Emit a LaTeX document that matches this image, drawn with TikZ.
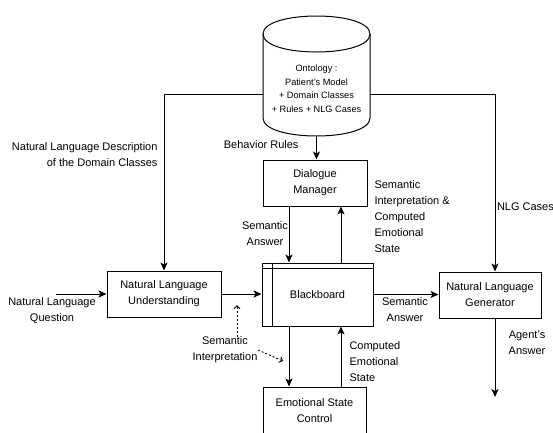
\documentclass[tikz,border=0pt]{standalone}
\usepackage{fontspec}
\setmainfont{Liberation Sans}
\usetikzlibrary{arrows.meta,calc}
\begin{document}
\begin{tikzpicture}[x=1pt,y=-1pt,line width=1pt,
  every node/.style={font=\fontsize{11}{16}\selectfont},
  box/.style={draw,align=center,inner sep=0pt},
  lbl/.style={inner sep=0pt},
  arr/.style={-{Stealth[length=8pt,width=7pt,inset=2pt]}},
  dotarr/.style={line width=0.9pt,dash pattern=on 2pt off 2pt,-{Straight Barb[length=3pt,width=6pt]}},
]
\useasboundingbox (0,0) rectangle (553,432);

% ontology cylinder
\draw[fill=white] (263,34) .. controls (263,10) and (370,10) .. (370,34) -- (370,118)
  .. controls (370,142) and (263,142) .. (263,118) -- cycle;
\draw (263,34) .. controls (263,58) and (370,58) .. (370,34);
\node[lbl,align=center,font=\fontsize{9.2}{13.5}\selectfont] (onto) at (316.5,88.5)
  {Ontology :\\Patient's Model\\+ Domain Classes\\+ Rules + NLG Cases};
\coordinate (cylL) at (263,94);
\coordinate (cylR) at (370,94);
\coordinate (cylB) at (316.5,136);

% boxes
\node[box,minimum width=104,minimum height=46] (dm) at (315,183) {Dialogue\\Manager};
\node[box,minimum width=111,minimum height=63] (bb) at (317.5,294.5) {Blackboard};
\draw ([yshift=-6]bb.north west) -- ([yshift=-6]bb.north east);
\draw ([xshift=11]bb.north west) -- ([xshift=11]bb.south west);
\node[box,minimum width=114,minimum height=46] (nlu) at (164,294) {Natural Language\\Understanding};
\node[box,minimum width=102,minimum height=46] (nlg) at (490,295) {Natural Language\\Generator};
\node[box,minimum width=103,minimum height=48] (esc) at (314.5,411) {Emotional State\\Control};

\coordinate (xa) at (289,0);
\coordinate (xb) at (341,0);
\coordinate (xc) at (495,0);
\coordinate (qin) at (56,294);
\coordinate (aout) at (495,397);

% connectors
\draw[arr] (cylB) -- (cylB |- dm.north);
\draw[arr] (cylL) -| (nlu.north);
\draw[arr] (cylR) -| (xc |- nlg.north);
\draw[arr] (dm.south -| xa) -- (bb.north -| xa);
\draw[arr] (bb.north -| xb) -- (dm.south -| xb);
\draw[arr] (bb.south -| xa) -- (esc.north -| xa);
\draw[arr] (esc.north -| xb) -- (bb.south -| xb);
\draw[arr] (qin) -- (nlu.west);
\draw[arr] (nlu.east) -- (nlu.east -| bb.west);
\draw[arr] (bb.east) -- (bb.east -| nlg.west);
\draw[arr] (xc |- nlg.south) -- (aout);

% labels
\node[lbl,anchor=east] (lbr) at (299,145) {Behavior Rules};
\node[lbl,anchor=east,align=right] (lnld) at (158,154.5) {Natural Language Description\\of the Domain Classes};
\node[lbl,anchor=west] (lnlg) at (496.5,207) {NLG Cases};
\node[lbl,align=center] (lsa1) at (265,233.5) {Semantic\\Answer};
\node[lbl,anchor=west,align=left] (lsi) at (374,217) {Semantic\\Interpretation \&\\Computed\\Emotional\\State};
\node[lbl,anchor=west,align=left] (lces) at (349,362) {Computed\\Emotional\\State};
\node[lbl,align=center] (lq) at (52,311) {Natural Language\\Question};
\node[lbl,align=center] (lsi2) at (225,350) {Semantic\\Interpretation};
\node[lbl,align=center] (lsa2) at (405,309.5) {Semantic\\Answer};
\node[lbl,align=center] (lag) at (527,343) {Agent's\\Answer};

% dotted arrows
\coordinate (d1s) at (237,337);
\coordinate (d1e) at (237,305);
\coordinate (d2s) at (258,350);
\coordinate (d2e) at (283,361);
\draw[dotarr] (d1s) -- (d1e);
\draw[dotarr] (d2s) -- (d2e);
\end{tikzpicture}
\end{document}
